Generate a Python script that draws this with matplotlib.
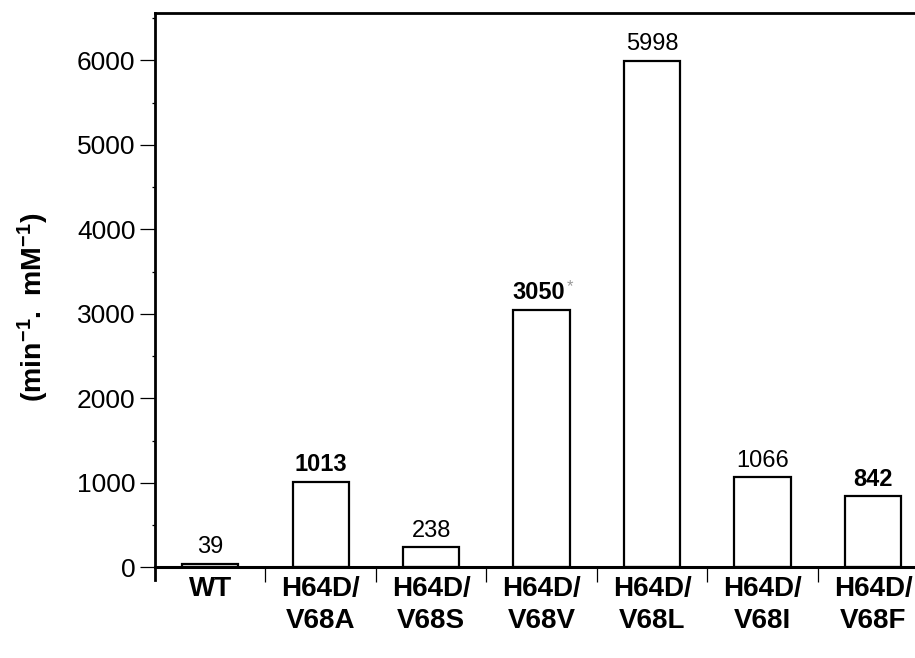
import matplotlib.pyplot as plt
from matplotlib.ticker import MultipleLocator

categories = ['WT', 'H64D/\nV68A', 'H64D/\nV68S', 'H64D/\nV68V', 'H64D/\nV68L', 'H64D/\nV68I', 'H64D/\nV68F']
values = [39, 1013, 238, 3050, 5998, 1066, 842]
value_labels = ['39', '1013', '238', '3050', '5998', '1066', '842']

# the scanned labels are not all of the same weight
label_weights = ['normal', 'bold', 'normal', 'bold', 'normal', 'normal', 'bold']

plt.rcParams['font.family'] = ['Liberation Sans', 'DejaVu Sans']
plt.rcParams['mathtext.fontset'] = 'custom'
plt.rcParams['mathtext.bf'] = 'Liberation Sans:bold'
plt.rcParams['mathtext.rm'] = 'Liberation Sans'

fig = plt.figure(figsize=(9.15, 6.58), dpi=100)
ax = fig.add_axes([0.1694, 0.1186, 0.8306, 0.8616])

x = list(range(len(categories)))
ax.bar(x, values, width=0.51, color='white', edgecolor='black', linewidth=1.6, zorder=2)

for xi, v, lab, w in zip(x, values, value_labels, label_weights):
    ax.annotate(lab, (xi, v), xytext=(-2 if lab == '3050' else 0, 4),
                textcoords='offset points', ha='center', va='bottom',
                fontsize=17, fontweight=w)
# faint mark after 3050
ax.annotate('*', (3, values[3]), xytext=(18, 11), textcoords='offset points',
            ha='left', va='bottom', fontsize=12, color='#999999')

ax.set_xlim(-0.50, 6.38)
ax.set_ylim(-150, 6560)

ax.spines['right'].set_visible(False)
ax.spines['bottom'].set_position(('data', 0))
ax.spines['bottom'].set_linewidth(2.2)
ax.spines['left'].set_linewidth(2.0)
ax.spines['top'].set_linewidth(2.0)

ax.set_xticks(x)
ax.set_xticklabels(categories, fontsize=20, fontweight='bold', linespacing=1.3)
ax.set_xticks([i + 0.5 for i in x[:-1]], minor=True)
ax.tick_params(axis='x', which='major', length=0, pad=6)
ax.tick_params(axis='x', which='minor', length=11, width=0.9, direction='out')

ax.yaxis.set_major_locator(MultipleLocator(1000))
ax.yaxis.set_minor_locator(MultipleLocator(500))
ax.tick_params(axis='y', which='major', length=11, width=0.9, labelsize=19, pad=3)
ax.tick_params(axis='y', which='minor', length=2, width=0.9)

fig.text(0.036, 0.533, r'$\mathbf{(min^{-1}.\ mM^{-1})}$', rotation=90,
         ha='center', va='center', fontsize=20.5)

fig.savefig('out.png', dpi=100)
